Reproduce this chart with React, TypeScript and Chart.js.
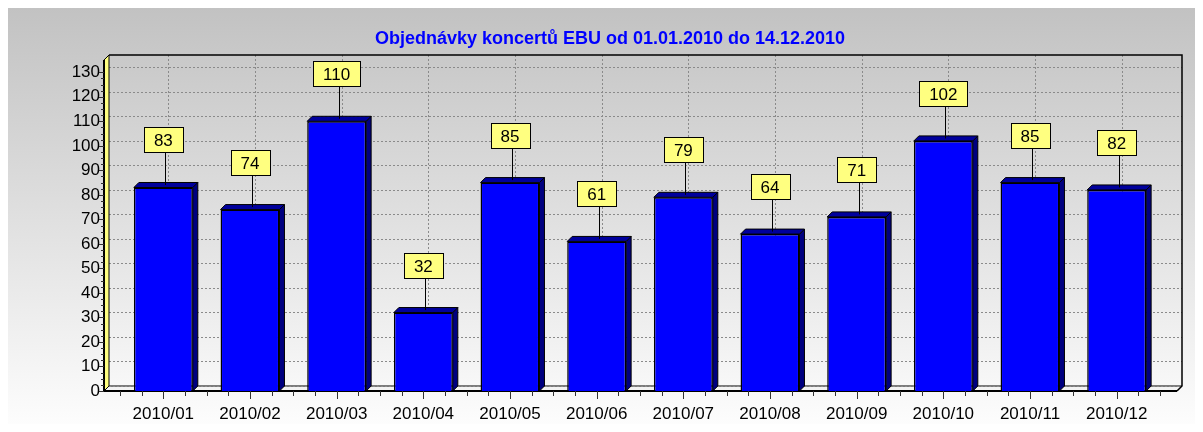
import React, { useEffect, useRef } from 'react';
import { Chart, registerables } from 'chart.js';

Chart.register(...registerables);

const TITLE = 'Objednávky koncertů EBU od 01.01.2010 do 14.12.2010';
const MONTHS = ['2010/01', '2010/02', '2010/03', '2010/04', '2010/05', '2010/06', '2010/07', '2010/08', '2010/09', '2010/10', '2010/11', '2010/12'];
const ORDERS = [83, 74, 110, 32, 85, 61, 79, 64, 71, 102, 85, 82];
const Y_TICKS = [0, 10, 20, 30, 40, 50, 60, 70, 80, 90, 100, 110, 120, 130];
const Y_MAX = 135;

const FONT = '"Liberation Sans", Arial, sans-serif';
const DEPTH = 5;
const PAD_L = 16;
const PAD_R = 17;
const W = 1195;
const H = 424;

function poly(ctx: CanvasRenderingContext2D, pts: number[][], fill: string, stroke: string, lw = 1) {
  ctx.beginPath();
  ctx.moveTo(pts[0][0], pts[0][1]);
  for (let i = 1; i < pts.length; i++) ctx.lineTo(pts[i][0], pts[i][1]);
  ctx.closePath();
  ctx.fillStyle = fill;
  ctx.fill();
  ctx.strokeStyle = stroke;
  ctx.lineWidth = lw;
  ctx.stroke();
}

function seg(ctx: CanvasRenderingContext2D, x1: number, y1: number, x2: number, y2: number) {
  ctx.beginPath();
  ctx.moveTo(x1, y1);
  ctx.lineTo(x2, y2);
  ctx.stroke();
}

const frame3d = {
  id: 'frame3d',
  beforeDatasetsDraw(chart: any) {
    const { ctx, chartArea: a, scales } = chart;
    const xs = scales.x, ys = scales.y;
    const D = DEPTH;
    const L = a.left - PAD_L, R = a.right + PAD_R, T = a.top, B = a.bottom;
    ctx.save();
    // floor
    poly(ctx, [[L, B], [L + D, B - D], [R + D, B - D], [R, B]], '#f2f2f2', '#000', 1);
    // grid
    ctx.strokeStyle = '#8a8a8a';
    ctx.lineWidth = 1;
    ctx.setLineDash([2, 2]);
    for (const v of Y_TICKS) {
      const py = Math.round(ys.getPixelForValue(v) - D) + 0.5;
      seg(ctx, L + D, py, R + D, py);
    }
    for (let i = 0; i < MONTHS.length; i++) {
      const px = Math.round(xs.getPixelForValue(i) + D) + 0.5;
      seg(ctx, px, T - D, px, B - D);
    }
    ctx.setLineDash([]);
    // back wall border
    ctx.strokeStyle = '#000';
    ctx.lineWidth = 1.5;
    ctx.beginPath();
    ctx.moveTo(L + D, T - D);
    ctx.lineTo(R + D, T - D);
    ctx.lineTo(R + D, B - D);
    ctx.lineTo(R, B);
    ctx.stroke();
    // left wall
    poly(ctx, [[L, B], [L + D, B - D], [L + D, T - D], [L, T]], '#ffff80', '#000', 1);
    // axis lines
    ctx.strokeStyle = '#000';
    ctx.lineWidth = 2;
    ctx.beginPath();
    ctx.moveTo(L, T);
    ctx.lineTo(L, B);
    ctx.lineTo(R, B);
    ctx.stroke();
    // y ticks
    ctx.lineWidth = 1;
    ctx.strokeStyle = '#333';
    for (let v = 0; v <= 130; v += 2.5) {
      const py = Math.round(ys.getPixelForValue(v)) + 0.5;
      const len = v % 10 === 0 ? 5 : 3;
      seg(ctx, L - len, py, L, py);
    }
    // x ticks
    const n = MONTHS.length * 4;
    for (let i = 0; i <= n; i++) {
      const px = Math.round(xs.getPixelForValue(i / 4 - 0.5)) + 0.5;
      const len = i % 4 === 2 ? 8 : 5;
      seg(ctx, px, B, px, B + len);
    }
    // title
    ctx.fillStyle = '#0000ff';
    ctx.font = 'bold 18px ' + FONT;
    ctx.textAlign = 'center';
    ctx.textBaseline = 'alphabetic';
    ctx.fillText(TITLE, (a.left + a.right) / 2 - 30, 36);
    ctx.restore();
  },
  afterDatasetsDraw(chart: any) {
    const { ctx } = chart;
    const D = DEPTH;
    const meta = chart.getDatasetMeta(0);
    ctx.save();
    meta.data.forEach((bar: any, i: number) => {
      const { x, y, base, width } = bar.getProps(['x', 'y', 'base', 'width'], true);
      const l = x - width / 2, r = x + width / 2;
      poly(ctx, [[r, y], [r + D, y - D], [r + D, base - D], [r, base]], '#000080', '#000', 1);
      poly(ctx, [[l, y], [l + D, y - D], [r + D, y - D], [r, y]], '#00009c', '#000', 1);
      // label
      const txt = String(ORDERS[i]);
      ctx.font = '17px ' + FONT;
      const tw = ctx.measureText(txt).width;
      const bw = Math.round(tw + 20), bh = 25;
      const bb = Math.round(y - 35);
      ctx.strokeStyle = '#000';
      ctx.lineWidth = 1;
      seg(ctx, Math.round(x + 2) + 0.5, bb, Math.round(x + 2) + 0.5, y - D / 2);
      ctx.fillStyle = '#ffff80';
      const bx = Math.round(x - bw / 2) + 0.5;
      ctx.fillRect(bx, bb - bh + 0.5, bw, bh);
      ctx.strokeRect(bx, bb - bh + 0.5, bw, bh);
      ctx.fillStyle = '#000';
      ctx.textAlign = 'center';
      ctx.textBaseline = 'middle';
      ctx.fillText(txt, x, bb - bh / 2 + 1.5);
    });
    ctx.restore();
  },
};

export default function App() {
  const ref = useRef<HTMLCanvasElement>(null);
  useEffect(() => {
    const chart = new Chart(ref.current as HTMLCanvasElement, {
      type: 'bar',
      data: {
        labels: MONTHS,
        datasets: [
          {
            data: ORDERS,
            backgroundColor: '#0000ff',
            borderColor: '#000000',
            borderWidth: 1.5,
            categoryPercentage: 1,
            barPercentage: 0.68,
          },
        ],
      },
      options: {
        responsive: false,
        animation: false,
        layout: { padding: { left: 0, right: W - 1152, top: 52, bottom: 0 } },
        plugins: {
          legend: { display: false },
          title: { display: false },
          tooltip: { enabled: false },
        },
        scales: {
          x: {
            grid: { display: false, drawTicks: false },
            border: { display: false },
            ticks: { color: '#000', font: { size: 17, family: FONT }, padding: 13, maxRotation: 0, autoSkip: false },
            afterFit(s: any) { s.height = H - 383; },
          },
          y: {
            min: 0,
            max: Y_MAX,
            grid: { display: false, drawTicks: false },
            border: { display: false },
            ticks: { color: '#000', font: { size: 17, family: FONT }, padding: 20 },
            afterBuildTicks(s: any) { s.ticks = Y_TICKS.map((v) => ({ value: v })); },
            afterFit(s: any) { s.width = 112; },
          },
        },
      } as any,
      plugins: [frame3d],
    });
    return () => chart.destroy();
  }, []);
  return (
    <div style={{ width: W, height: H, marginBottom: -8, overflow: 'hidden', background: 'linear-gradient(#c2c2c2, #fefefe)' }}>
      <canvas ref={ref} width={W} height={H} style={{ display: 'block' }} />
    </div>
  );
}
